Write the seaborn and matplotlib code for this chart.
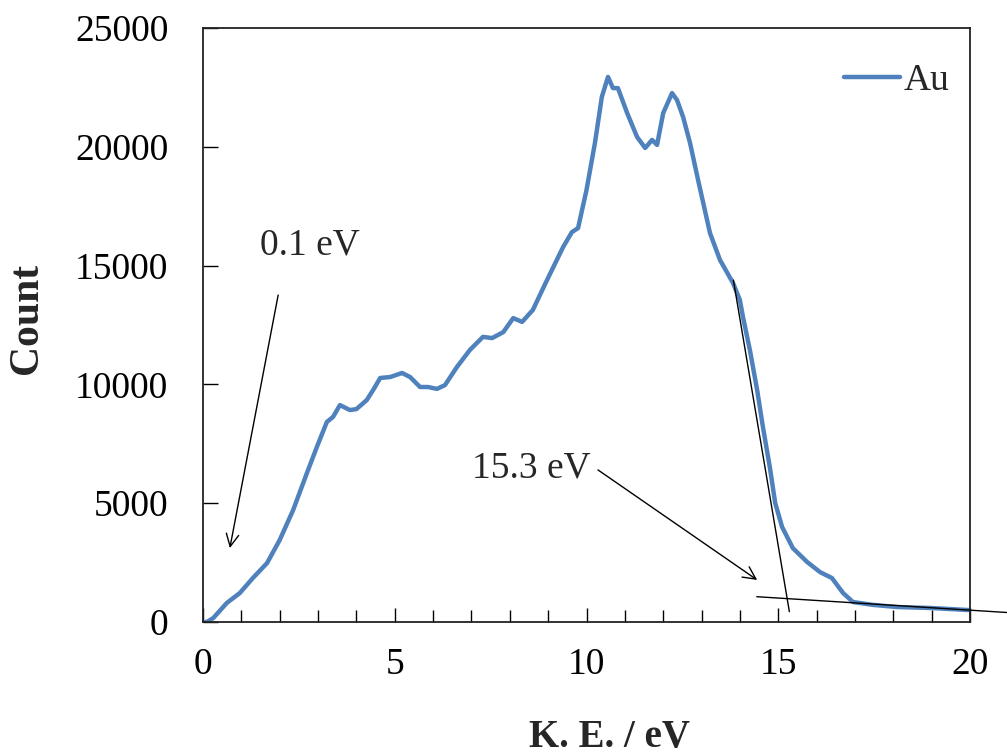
import matplotlib
matplotlib.use("Agg")
import matplotlib.pyplot as plt
from matplotlib.ticker import MultipleLocator
import seaborn as sns
import pandas as pd

# ---- data ----
ke = [0.0, 0.1, 0.27, 0.62, 0.96, 1.3, 1.67, 2.0, 2.35, 2.71, 2.97, 3.23, 3.39, 3.57,
      3.83, 4.0, 4.27, 4.45, 4.62, 4.88, 5.19, 5.4, 5.66, 5.87, 6.1, 6.31, 6.62, 6.96,
      7.3, 7.54, 7.83, 8.09, 8.32, 8.6, 8.97, 9.39, 9.62, 9.78, 10.0, 10.22, 10.4,
      10.56, 10.69, 10.82, 11.06, 11.32, 11.53, 11.71, 11.84, 12.0, 12.23, 12.36,
      12.52, 12.7, 12.91, 13.22, 13.48, 13.82, 14.0, 14.08, 14.26, 14.45, 14.6, 14.78,
      14.92, 15.1, 15.38, 15.75, 16.09, 16.4, 16.69, 16.95, 17.47, 18.1, 18.96, 20.0]
count = [0, 0, 170, 800, 1220, 1850, 2480, 3450, 4710, 6270, 7370, 8420, 8630, 9130,
         8920, 8960, 9340, 9800, 10270, 10310, 10480, 10310, 9890, 9890, 9810, 9970,
         10730, 11450, 12000, 11950, 12200, 12790, 12630, 13130, 14390, 15780, 16410,
         16580, 18180, 20160, 22100, 22940, 22470, 22470, 21420, 20410, 19950, 20290,
         20080, 21420, 22260, 21970, 21250, 20160, 18600, 16370, 15240, 14270, 13550,
         12840, 11450, 9760, 8210, 6520, 5010, 4000, 3110, 2530, 2100, 1850, 1220, 840,
         720, 630, 590, 500]
series_name = "Au"

edge_tangent_x = [13.83, 15.29]
edge_tangent_y = [14390, 434]
base_tangent_x = [14.44, 20.96]
base_tangent_y = [1065, 400]

label_low = "0.1 eV"
label_low_text = (2.78, 15840)
label_low_tail = (1.96, 13760)
label_low_head = (0.70, 3110)

label_high = "15.3 eV"
label_high_text = (8.55, 6480)
label_high_tail = (10.30, 6400)
label_high_head = (14.45, 1770)

x_ticks = [0, 5, 10, 15, 20]
y_ticks = [0, 5000, 10000, 15000, 20000, 25000]

# ---- style ----
sns.set_style("white")
plt.rcParams["font.family"] = ["Liberation Serif", "DejaVu Serif"]

W, H = 1007, 756
fig = plt.figure(figsize=(W / 100, H / 100), dpi=100)
ax = fig.add_axes([203 / W, 1 - 622 / H, 767 / W, 594 / H])

df = pd.DataFrame({"K.E.": ke, "Count": count})
sns.lineplot(data=df, x="K.E.", y="Count", ax=ax, color="#4F81BD",
             linewidth=3.2, label=series_name)

ax.plot(edge_tangent_x, edge_tangent_y, color="black", lw=1.0, zorder=3)
ax.plot(base_tangent_x, base_tangent_y, color="black", lw=1.0, zorder=3, clip_on=False)

arrow_kw = dict(arrowstyle="->,head_length=0.9,head_width=0.45", color="black", lw=1.0,
                shrinkA=0, shrinkB=0)
ax.annotate("", xy=label_low_head, xytext=label_low_tail, arrowprops=arrow_kw)
ax.annotate("", xy=label_high_head, xytext=label_high_tail, arrowprops=arrow_kw)
ax.text(*label_low_text, label_low, fontsize=27, ha="center", va="center")
ax.text(*label_high_text, label_high, fontsize=27, ha="center", va="center")

ax.set_xlim(0, 20)
ax.set_ylim(0, 25000)
ax.set_xticks(x_ticks)
ax.set_yticks(y_ticks)
ax.xaxis.set_minor_locator(MultipleLocator(1))
ax.tick_params(axis="both", which="both", direction="in", colors="black",
               labelsize=27, top=False, right=False)
ax.tick_params(axis="x", which="major", length=10, width=1.0, pad=18, bottom=True)
ax.tick_params(axis="x", which="minor", length=9, width=1.0, bottom=True)
ax.tick_params(axis="y", which="major", length=11, width=1.0, pad=25, left=True)

for s in ax.spines.values():
    s.set_color("#222222")
    s.set_linewidth(1.3)

ax.set_xlabel("K. E. / eV", fontsize=28, fontweight="bold", va="center")
ax.set_ylabel("Count", fontsize=30, fontweight="bold", va="center")
ax.xaxis.set_label_coords((609 - 203) / 767, (622 - 737) / 594)
ax.yaxis.set_label_coords((27 - 203) / 767, (622 - 318) / 594)

leg = ax.legend(loc="upper right", bbox_to_anchor=((950 - 203) / 767, (622 - 64) / 594),
                frameon=False, fontsize=27, handlelength=1.5, handletextpad=0.1,
                borderpad=0, borderaxespad=0)
for h in leg.get_lines():
    h.set_linewidth(3.2)

fig.savefig("out.png", dpi=100)
